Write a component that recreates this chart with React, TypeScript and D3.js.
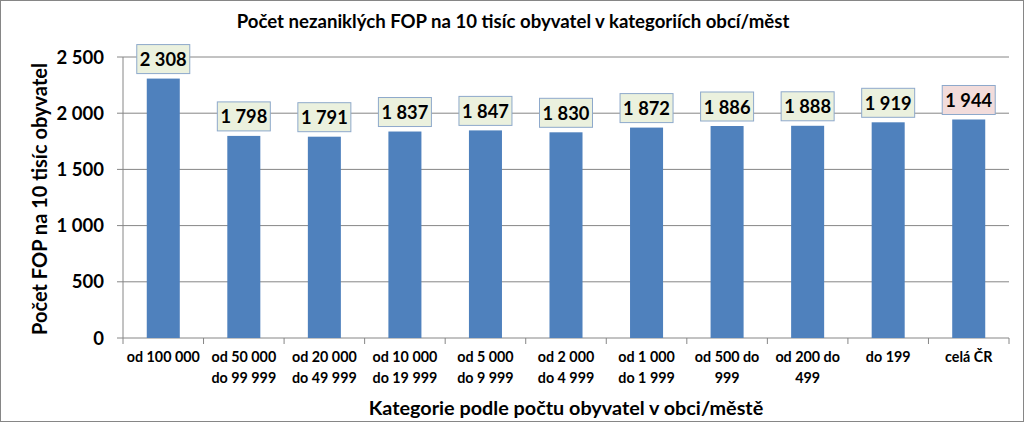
import React from "react";
import * as d3 from "d3";

const categories: string[][] = [
  ["od 100 000"],
  ["od 50 000", "do 99 999"],
  ["od 20 000", "do 49 999"],
  ["od 10 000", "do 19 999"],
  ["od 5 000", "do 9 999"],
  ["od 2 000", "do 4 999"],
  ["od 1 000", "do 1 999"],
  ["od 500 do", "999"],
  ["od 200 do", "499"],
  ["do 199"],
  ["celá ČR"],
];
const values: number[] = [2308, 1798, 1791, 1837, 1847, 1830, 1872, 1886, 1888, 1919, 1944];
const yTicks: number[] = [0, 500, 1000, 1500, 2000, 2500];
const title = "Počet nezaniklých FOP na 10 tisíc obyvatel v kategoriích obcí/měst";
const yTitle = "Počet FOP na 10 tisíc obyvatel";
const xTitle = "Kategorie podle počtu obyvatel v obci/městě";

const W = 1024;
const H = 422;
const FONT = "Lato, 'Open Sans', sans-serif";

export default function App() {
  const left = 123, right = 1009, top = 57, bottom = 338;
  const x = d3.scaleBand<number>().domain(values.map((_, i) => i)).range([left, right]).paddingInner(0.59).paddingOuter(0.295);
  const band = d3.scaleBand<number>().domain(values.map((_, i) => i)).range([left, right]);
  const y = d3.scaleLinear().domain([0, 2500]).range([bottom, top]);
  const fmtT = (v: number) => d3.format(",")(v).replace(/,/g, " ");
  return (
    <div style={{ position: "fixed", left: 0, top: 0 }}>
      <svg width={W} height={H} style={{ display: "block", background: "#fff" }}>
        <rect x={0.5} y={0.5} width={W - 1} height={H - 1} fill="#fff" stroke="#868686" />
        <text x={513} y={28} textAnchor="middle" fontFamily={FONT} fontWeight="bold" fontSize={18.6} fill="#000">{title}</text>
        {yTicks.map((t) => (
          <g key={t}>
            {t > 0 && <line x1={left} x2={right} y1={y(t)} y2={y(t)} stroke="#868686" strokeWidth={1} />}
            <line x1={left - 6} x2={left} y1={y(t)} y2={y(t)} stroke="#868686" />
            <text x={104} y={y(t) + 6.5} textAnchor="end" fontFamily={FONT} fontWeight="bold" fontSize={18.5} fill="#000">{fmtT(t)}</text>
          </g>
        ))}
        <line x1={left} x2={left} y1={top} y2={bottom} stroke="#868686" />
        <line x1={left} x2={right} y1={bottom} y2={bottom} stroke="#868686" />
        {d3.range(values.length + 1).map((i) => {
          const xx = left + band.step() * i;
          return <line key={i} x1={xx} x2={xx} y1={bottom} y2={bottom + 6} stroke="#868686" />;
        })}
        {values.map((v, i) => (
          <rect key={i} x={x(i)} y={y(v)} width={x.bandwidth()} height={bottom - y(v)} fill="#4F81BD" />
        ))}
        {values.map((v, i) => {
          const cx = (band(i) as number) + band.bandwidth() / 2;
          const bw = 53, bh = 29;
          const by = y(v) - 5 - bh;
          const last = i === values.length - 1;
          return (
            <g key={i}>
              <rect x={cx - bw / 2} y={by} width={bw} height={bh} fill={last ? "#F2DCDB" : "#EBF1DE"} stroke="#8EA9CB" strokeWidth={1} />
              <text x={cx} y={by + 21.5} textAnchor="middle" fontFamily={FONT} fontWeight="bold" fontSize={18.3} fill="#000">{fmtT(v)}</text>
            </g>
          );
        })}
        {categories.map((lines, i) => {
          const cx = (band(i) as number) + band.bandwidth() / 2;
          return (
            <text key={i} textAnchor="middle" fontFamily={FONT} fontWeight="bold" fontSize={14.3} fill="#000">
              {lines.map((l, j) => (
                <tspan key={j} x={cx} y={362 + j * 21}>{l}</tspan>
              ))}
            </text>
          );
        })}
        <text x={566} y={415} textAnchor="middle" fontFamily={FONT} fontWeight="bold" fontSize={19.8} fill="#000">{xTitle}</text>
        <text transform={`translate(47,199) rotate(-90)`} textAnchor="middle" fontFamily={FONT} fontWeight="bold" fontSize={20} fill="#000">{yTitle}</text>
      </svg>
    </div>
  );
}
